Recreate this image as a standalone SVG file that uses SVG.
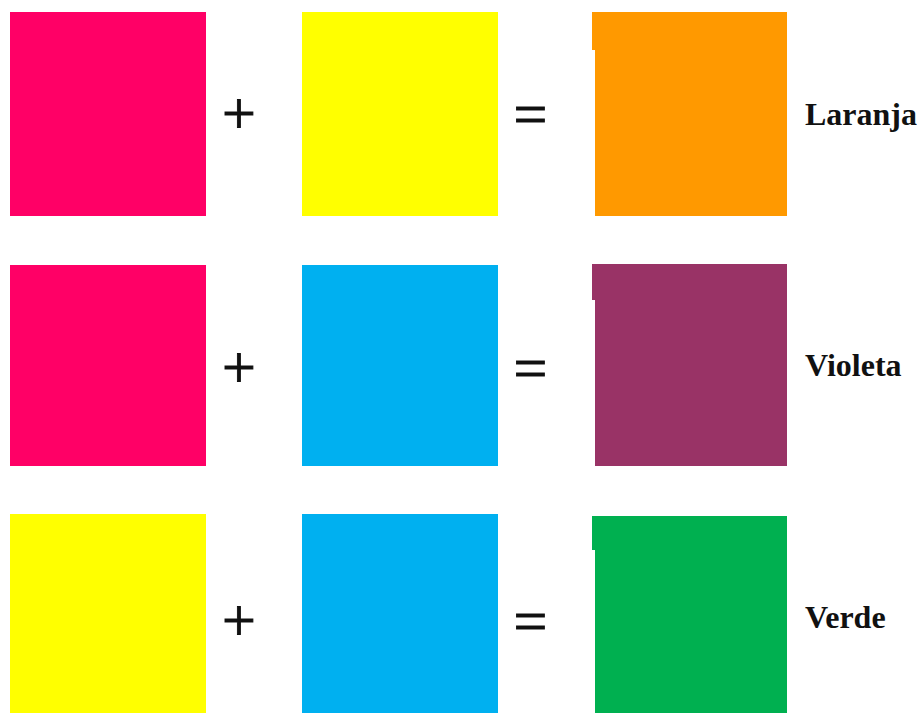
<svg xmlns="http://www.w3.org/2000/svg" width="924" height="713" viewBox="0 0 924 713">
<style>
.op{font-family:"Liberation Serif","Times New Roman",serif;font-size:60px;fill:#111;stroke:#111;stroke-width:0.9px;text-anchor:middle}
.lbl{font-family:"Liberation Serif","Times New Roman",serif;font-size:32px;font-weight:bold;fill:#111}
</style>
<rect width="924" height="713" fill="#fff"/>
<g id="row1">
<rect id="magenta1" x="10" y="12" width="196" height="204" fill="#FF0066"/>
<text class="op" x="239" y="133">+</text>
<rect id="yellow1" x="302" y="12" width="196" height="204" fill="#FFFF00"/>
<text class="op" x="530.5" y="134">=</text>
<path id="orange" d="M592 12H787V216H595V50H592Z" fill="#FF9900"/>
<text class="lbl" x="805" y="125">Laranja</text>
</g>
<g id="row2">
<rect id="magenta2" x="10" y="265" width="196" height="201" fill="#FF0066"/>
<text class="op" x="239" y="387">+</text>
<rect id="blue2" x="302" y="265" width="196" height="201" fill="#00B0F0"/>
<text class="op" x="530.5" y="388">=</text>
<path id="violet" d="M592 264H787V466H595V300H592Z" fill="#993366"/>
<text class="lbl" x="805" y="376">Violeta</text>
</g>
<g id="row3">
<rect id="yellow3" x="10" y="514" width="196" height="199" fill="#FFFF00"/>
<text class="op" x="239" y="640">+</text>
<rect id="blue3" x="302" y="514" width="196" height="199" fill="#00B0F0"/>
<text class="op" x="530.5" y="641">=</text>
<path id="green" d="M592 516H787V713H595V550H592Z" fill="#00B050"/>
<text class="lbl" x="805" y="628">Verde</text>
</g>
</svg>
